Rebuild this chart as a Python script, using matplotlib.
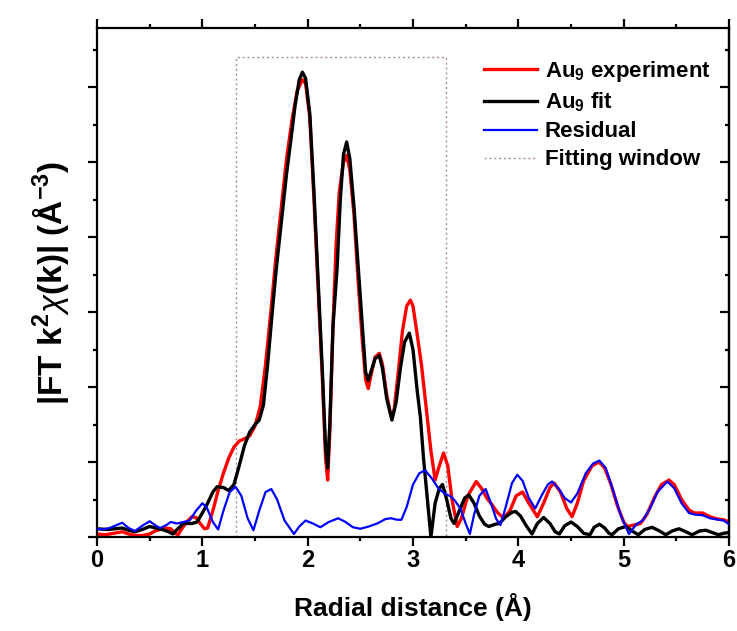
import matplotlib
matplotlib.use("Agg")
import matplotlib.pyplot as plt
from matplotlib.ticker import MultipleLocator, NullFormatter

plt.rcParams['font.family'] = ['Liberation Sans', 'DejaVu Sans']
plt.rcParams['mathtext.fontset'] = 'custom'
plt.rcParams['mathtext.rm'] = 'Liberation Sans:bold'
plt.rcParams['mathtext.bf'] = 'Liberation Sans:bold'
plt.rcParams['mathtext.it'] = 'Liberation Sans:italic'

# ---------------- data ----------------
exp_x = [0.00, 0.08, 0.16, 0.24, 0.30, 0.36, 0.43, 0.50, 0.55, 0.60, 0.65, 0.70, 0.74, 0.77,
         0.80, 0.85, 0.90, 0.94, 0.98, 1.02, 1.05, 1.10, 1.15, 1.20, 1.25, 1.30, 1.35, 1.40,
         1.45, 1.50, 1.55, 1.60, 1.65, 1.70, 1.75, 1.80, 1.85, 1.90, 1.95, 1.98, 2.02, 2.06,
         2.10, 2.14, 2.17, 2.19, 2.21, 2.24, 2.27, 2.30, 2.34, 2.37, 2.40, 2.44, 2.48, 2.52,
         2.55, 2.575, 2.60, 2.64, 2.68, 2.71, 2.75, 2.79, 2.82, 2.86, 2.90, 2.94, 2.975, 3.00,
         3.04, 3.08, 3.135, 3.17, 3.21, 3.25, 3.29, 3.33, 3.37, 3.42, 3.46, 3.52, 3.60, 3.65,
         3.70, 3.74, 3.80, 3.86, 3.92, 3.98, 4.04, 4.10, 4.18, 4.24, 4.30, 4.34, 4.40, 4.46,
         4.51, 4.56, 4.62, 4.70, 4.765, 4.82, 4.88, 4.94, 5.00, 5.035, 5.10, 5.16, 5.22, 5.30,
         5.36, 5.43, 5.48, 5.55, 5.62, 5.67, 5.75, 5.82, 5.89, 5.95, 6.00]
exp_y = [0.04, 0.03, 0.05, 0.07, 0.04, 0.02, 0.02, 0.04, 0.08, 0.10, 0.12, 0.11, 0.05, 0.03,
         0.10, 0.20, 0.27, 0.26, 0.18, 0.11, 0.12, 0.35, 0.62, 0.85, 1.05, 1.20, 1.28, 1.31,
         1.35, 1.48, 1.74, 2.30, 3.00, 3.75, 4.40, 5.05, 5.55, 5.95, 6.10, 6.05, 5.60, 4.50,
         3.30, 2.10, 1.05, 0.76, 1.40, 2.80, 3.90, 4.60, 5.00, 5.09, 4.90, 4.30, 3.40, 2.60,
         2.10, 1.98, 2.15, 2.40, 2.45, 2.30, 1.90, 1.62, 1.68, 2.20, 2.75, 3.08, 3.16, 3.08,
         2.70, 2.30, 1.60, 1.15, 0.76, 0.95, 1.12, 0.95, 0.50, 0.14, 0.25, 0.55, 0.74, 0.65,
         0.52, 0.45, 0.33, 0.25, 0.35, 0.55, 0.60, 0.45, 0.27, 0.45, 0.66, 0.72, 0.60, 0.38,
         0.27, 0.45, 0.75, 0.95, 1.00, 0.92, 0.70, 0.42, 0.20, 0.14, 0.16, 0.18, 0.30, 0.55,
         0.70, 0.76, 0.70, 0.50, 0.36, 0.32, 0.32, 0.27, 0.24, 0.23, 0.20]

fit_x = [0.00, 0.10, 0.24, 0.30, 0.36, 0.43, 0.50, 0.56, 0.62, 0.68, 0.72, 0.76, 0.82, 0.90,
         0.95, 1.00, 1.05, 1.10, 1.14, 1.20, 1.25, 1.30, 1.35, 1.40, 1.45, 1.50, 1.54, 1.58,
         1.62, 1.66, 1.70, 1.75, 1.80, 1.84, 1.88, 1.92, 1.95, 1.98, 2.02, 2.06, 2.10, 2.14,
         2.17, 2.19, 2.21, 2.24, 2.28, 2.31, 2.34, 2.37, 2.40, 2.44, 2.48, 2.52, 2.55, 2.575,
         2.60, 2.64, 2.68, 2.71, 2.75, 2.80, 2.84, 2.88, 2.92, 2.965, 3.00, 3.04, 3.07, 3.10,
         3.14, 3.17, 3.21, 3.25, 3.28, 3.32, 3.36, 3.39, 3.44, 3.49, 3.53, 3.58, 3.63, 3.68,
         3.72, 3.78, 3.82, 3.88, 3.94, 3.975, 4.02, 4.08, 4.13, 4.18, 4.24, 4.30, 4.35, 4.39,
         4.44, 4.50, 4.56, 4.62, 4.68, 4.72, 4.77, 4.82, 4.86, 4.89, 4.95, 5.02, 5.08, 5.14,
         5.20, 5.27, 5.34, 5.40, 5.46, 5.525, 5.59, 5.65, 5.72, 5.78, 5.84, 5.90, 5.95, 6.00]
fit_y = [0.11, 0.10, 0.12, 0.09, 0.07, 0.10, 0.14, 0.12, 0.10, 0.07, 0.04, 0.10, 0.18, 0.18,
         0.20, 0.32, 0.45, 0.60, 0.67, 0.66, 0.62, 0.70, 0.95, 1.22, 1.40, 1.50, 1.56, 1.76,
         2.30, 2.94, 3.55, 4.20, 4.85, 5.29, 5.75, 6.10, 6.20, 6.12, 5.65, 4.60, 3.40, 2.20,
         1.20, 0.92, 1.50, 2.80, 3.60, 4.50, 5.10, 5.27, 5.05, 4.40, 3.60, 2.80, 2.20, 2.09,
         2.20, 2.38, 2.42, 2.25, 1.85, 1.56, 1.80, 2.25, 2.60, 2.72, 2.50, 1.95, 1.60, 1.05,
         0.45, 0.00, 0.45, 0.65, 0.70, 0.50, 0.25, 0.18, 0.35, 0.52, 0.56, 0.45, 0.28, 0.17,
         0.14, 0.17, 0.18, 0.27, 0.33, 0.34, 0.28, 0.14, 0.04, 0.18, 0.26, 0.18, 0.07, 0.04,
         0.15, 0.20, 0.14, 0.05, 0.03, 0.13, 0.17, 0.12, 0.05, 0.03, 0.11, 0.14, 0.08, 0.03,
         0.10, 0.13, 0.08, 0.03, 0.08, 0.11, 0.07, 0.03, 0.08, 0.09, 0.06, 0.03, 0.05, 0.06]

res_x = [0.00, 0.05, 0.12, 0.17, 0.24, 0.30, 0.36, 0.43, 0.50, 0.56, 0.60, 0.66, 0.70, 0.76,
         0.82, 0.88, 0.94, 1.00, 1.04, 1.10, 1.15, 1.20, 1.26, 1.315, 1.37, 1.43, 1.485, 1.54,
         1.60, 1.655, 1.71, 1.78, 1.87, 1.92, 1.98, 2.05, 2.12, 2.20, 2.29, 2.36, 2.43, 2.50,
         2.58, 2.66, 2.74, 2.79, 2.85, 2.89, 2.94, 3.00, 3.06, 3.115, 3.18, 3.24, 3.30, 3.36,
         3.40, 3.45, 3.50, 3.54, 3.58, 3.63, 3.69, 3.74, 3.79, 3.83, 3.88, 3.94, 3.99, 4.04,
         4.10, 4.16, 4.22, 4.28, 4.32, 4.38, 4.44, 4.50, 4.56, 4.64, 4.71, 4.77, 4.83, 4.90,
         4.97, 5.05, 5.12, 5.18, 5.25, 5.32, 5.415, 5.48, 5.55, 5.62, 5.67, 5.75, 5.82, 5.90,
         5.95, 6.00]
res_y = [0.11, 0.10, 0.12, 0.15, 0.19, 0.12, 0.08, 0.15, 0.21, 0.15, 0.12, 0.16, 0.20, 0.18,
         0.20, 0.22, 0.35, 0.45, 0.40, 0.20, 0.10, 0.35, 0.60, 0.67, 0.55, 0.25, 0.09, 0.35,
         0.60, 0.64, 0.50, 0.22, 0.04, 0.14, 0.22, 0.18, 0.13, 0.20, 0.25, 0.20, 0.13, 0.11,
         0.14, 0.18, 0.24, 0.25, 0.23, 0.23, 0.40, 0.70, 0.85, 0.89, 0.78, 0.65, 0.58, 0.54,
         0.48, 0.38, 0.18, 0.04, 0.30, 0.55, 0.64, 0.45, 0.24, 0.16, 0.40, 0.72, 0.83, 0.75,
         0.52, 0.38, 0.55, 0.70, 0.74, 0.65, 0.52, 0.46, 0.58, 0.85, 0.98, 1.02, 0.92, 0.62,
         0.30, 0.04, 0.17, 0.22, 0.38, 0.60, 0.74, 0.65, 0.45, 0.32, 0.30, 0.29, 0.25, 0.23,
         0.22, 0.17]

window_x = [1.32, 3.31]
window_top = 6.4

x_ticks = [0, 1, 2, 3, 4, 5, 6]
x_ticklabels = ['0', '1', '2', '3', '4', '5', '6']
legend_labels = ['Au$_\\mathbf{9}$ experiment', 'Au$_\\mathbf{9}$ fit', 'Residual', 'Fitting window']

# ---------------- figure ----------------
fig = plt.figure(figsize=(7.37, 6.31), dpi=100)
ax = fig.add_axes([97/737, 94/631, 632/737, 509/631])

ax.plot([window_x[0], window_x[0], window_x[1], window_x[1]], [0, window_top, window_top, 0],
        color='#a89090', lw=1.0, ls=(0, (1.5, 2.0)), zorder=1)
l1, = ax.plot(exp_x, exp_y, color='#ff0000', lw=2.4, zorder=2, solid_joinstyle='round')
l2, = ax.plot(fit_x, fit_y, color='black', lw=2.4, zorder=3, solid_joinstyle='round')
l3, = ax.plot(res_x, res_y, color='#0000ff', lw=1.6, zorder=4, solid_joinstyle='round')
lw_, = ax.plot([], [], color='#a89090', lw=1.0, ls=(0, (1.5, 2.0)))

ax.set_xlim(0, 6)
ax.set_ylim(0, 6.79)

for s in ax.spines.values():
    s.set_linewidth(1.6)

ax.set_xticks(x_ticks)
ax.set_xticklabels(x_ticklabels)
ax.xaxis.set_minor_locator(MultipleLocator(0.5))
ax.set_yticks([0, 1, 2, 3, 4, 5, 6])
ax.yaxis.set_major_formatter(NullFormatter())
ax.yaxis.set_minor_locator(MultipleLocator(0.5))
ax.tick_params(axis='x', which='both', top=True, bottom=True, direction='out', labeltop=False)
ax.tick_params(axis='y', which='both', left=True, right=False, direction='out')
ax.tick_params(which='major', length=6.5, width=1.6, labelsize=17, pad=2)
ax.tick_params(which='minor', length=3.2, width=1.6)
for t in ax.get_xticklabels():
    t.set_fontweight('bold')

sec = ax.secondary_yaxis('right')
sec.set_yticks([0, 1, 2, 3, 4, 5, 6])
sec.yaxis.set_minor_locator(MultipleLocator(0.5))
sec.yaxis.set_major_formatter(NullFormatter())
sec.tick_params(which='both', direction='in', width=1.6)
sec.tick_params(which='major', length=6.5)
sec.tick_params(which='minor', length=3.2)
sec.spines['right'].set_linewidth(1.6)

ax.set_xlabel('Radial distance (Å)', fontsize=19, fontweight='bold', labelpad=15)
ax.set_ylabel('|FT k$^{\\mathbf{2}}$$\\chi$(k)| (Å$^{\\mathbf{-3}}$)', fontsize=24,
              fontweight='bold', labelpad=10)

leg = ax.legend([l1, l2, l3, lw_], legend_labels, loc='upper left',
                bbox_to_anchor=(0.612, 0.94), frameon=False, borderaxespad=0, borderpad=0,
                handlelength=2.4, handletextpad=0.35, labelspacing=0.32,
                prop={'family': 'Liberation Sans', 'weight': 'bold', 'size': 16})

fig.savefig('out.png', dpi=100)
